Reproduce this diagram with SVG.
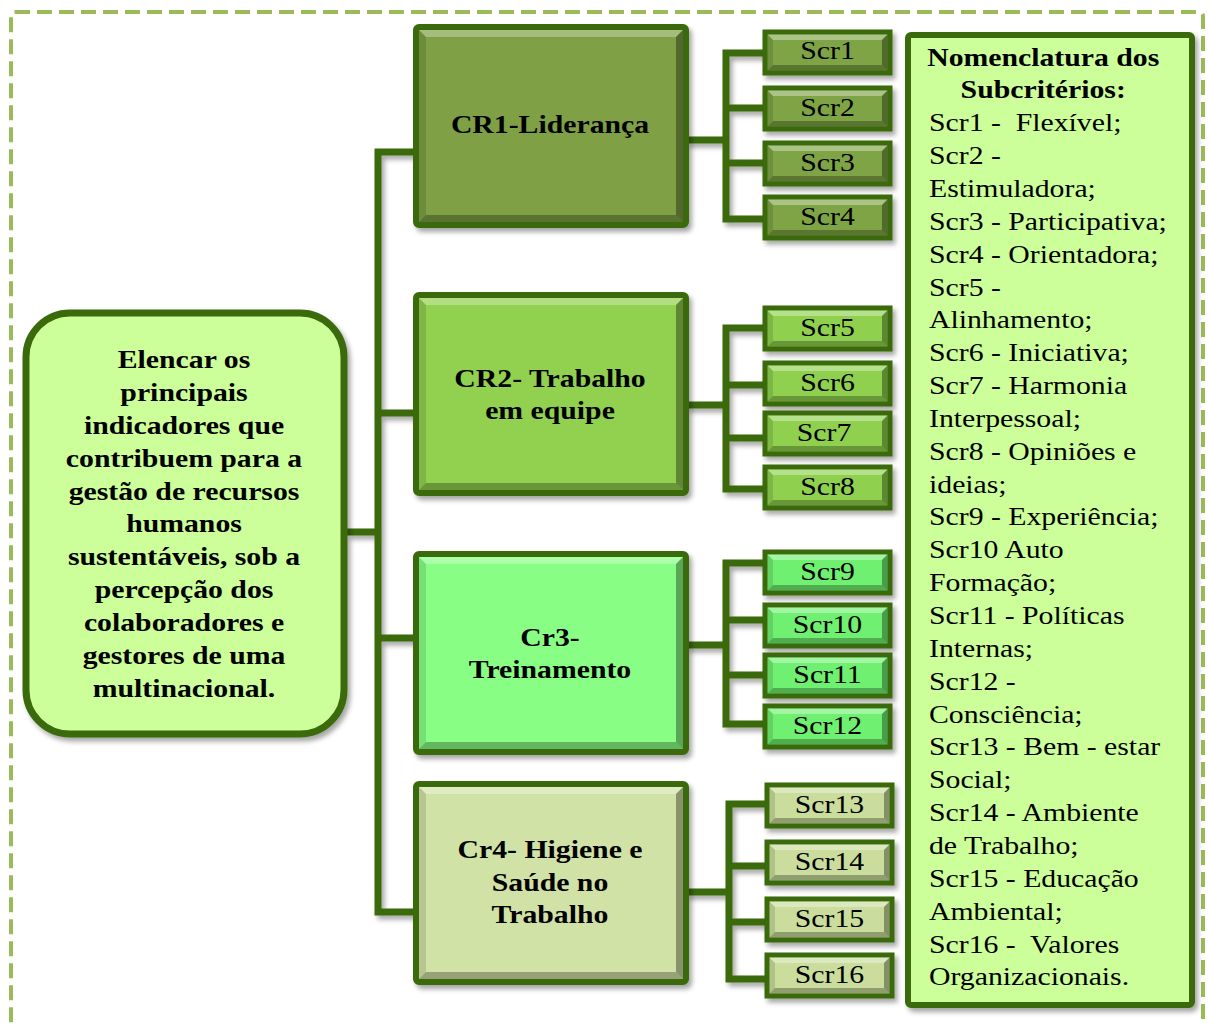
<svg xmlns="http://www.w3.org/2000/svg" xmlns:xlink="http://www.w3.org/1999/xlink" width="1209" height="1023" viewBox="0 0 1209 1023">
<style>
.frame{fill:none;stroke:#9bbb59;stroke-width:4;stroke-dasharray:15 7}
.conn{fill:none;stroke:#3a6a0a;stroke-width:7;stroke-linejoin:miter}
.box{stroke:#3a6a0a;stroke-width:6}
.scr{stroke:#3a6a0a;stroke-width:5}
.b{font-family:"Liberation Serif","Times New Roman",serif;font-weight:bold;font-size:25px;fill:#000;text-anchor:middle}
.r{font-family:"Liberation Serif","Times New Roman",serif;font-size:25px;fill:#000}
.rc{font-family:"Liberation Serif","Times New Roman",serif;font-size:25px;fill:#000;text-anchor:middle}
.g1{fill:#7fa045}.s1{fill:#7ea444}
.g2{fill:#92d050}.s2{fill:#8fd14f}
.g3{fill:#88ff84}.s3{fill:#70f070}
.g4{fill:#d1e2a6}.s4{fill:#cadd9c}
.lite{fill:#ccff99}
</style>
<defs>
<filter id="sh" x="-10%" y="-10%" width="130%" height="140%">
<feDropShadow dx="3" dy="4" stdDeviation="2.5" flood-color="#000" flood-opacity="0.35"/>
</filter>
<g id="bevCR">
<polygon points="3,3 267,3 260,10 10,10" fill="#fff" fill-opacity="0.3"/>
<polygon points="3,3 10,10 10,188 3,195" fill="#000" fill-opacity="0.12"/>
<polygon points="267,3 267,195 260,188 260,10" fill="#000" fill-opacity="0.35"/>
<polygon points="3,195 267,195 260,188 10,188" fill="#000" fill-opacity="0.28"/>
</g>
<g id="bevS">
<polygon points="2.5,2.5 122.5,2.5 117,8 8,8" fill="#fff" fill-opacity="0.35"/>
<polygon points="2.5,2.5 8,8 8,33 2.5,38.5" fill="#000" fill-opacity="0.12"/>
<polygon points="122.5,2.5 122.5,38.5 117,33 117,8" fill="#000" fill-opacity="0.35"/>
<polygon points="2.5,38.5 122.5,38.5 117,33 8,33" fill="#000" fill-opacity="0.28"/>
</g>
</defs>
<rect width="1209" height="1023" fill="#fff"/>
<rect class="frame" x="11" y="12" width="1192" height="1100" rx="4"/>

<g id="connectors" filter="url(#sh)">
<path class="conn" d="M416,152 H378 V912 H416 M378,413 H416 M378,638 H416 M347,532 H378"/>
<path class="conn" d="M765,53 H726 V219 H765 M726,108 H765 M726,163 H765 M686,140 H726"/>
<path class="conn" d="M765,328 H726 V489 H765 M726,385 H765 M726,438 H765 M686,405 H726"/>
<path class="conn" d="M765,563 H726 V724 H765 M726,620 H765 M726,675 H765 M686,645 H726"/>
<path class="conn" d="M767,804 H729 V979 H767 M729,866 H767 M729,922 H767 M686,892 H729"/>
</g>

<g id="root">
<rect class="box lite" x="26" y="313" width="318" height="421" rx="44" style="stroke-width:7" filter="url(#sh)"/>
<g transform="translate(184,0) scale(1.19,1)">
<text class="b" x="0" y="368">Elencar os</text>
<text class="b" x="0" y="401">principais</text>
<text class="b" x="0" y="434">indicadores que</text>
<text class="b" x="0" y="467">contribuem para a</text>
<text class="b" x="0" y="500">gestão de recursos</text>
<text class="b" x="0" y="532">humanos</text>
<text class="b" x="0" y="565">sustentáveis, sob a</text>
<text class="b" x="0" y="598">percepção dos</text>
<text class="b" x="0" y="631">colaboradores e</text>
<text class="b" x="0" y="664">gestores de uma</text>
<text class="b" x="0" y="697">multinacional.</text>
</g>
</g>

<g id="cr1">
<rect class="box g1" x="416" y="27" width="270" height="198" rx="3" filter="url(#sh)"/>
<use xlink:href="#bevCR" x="416" y="27"/>
<text class="b" transform="translate(550,0) scale(1.19,1)" x="0" y="133">CR1-Liderança</text>
</g>
<g id="cr2">
<rect class="box g2" x="416" y="295" width="270" height="198" rx="3" filter="url(#sh)"/>
<use xlink:href="#bevCR" x="416" y="295"/>
<g transform="translate(550,0) scale(1.19,1)">
<text class="b" x="0" y="387">CR2- Trabalho</text>
<text class="b" x="0" y="419">em equipe</text>
</g>
</g>
<g id="cr3">
<rect class="box g3" x="416" y="554" width="270" height="198" rx="3" filter="url(#sh)"/>
<use xlink:href="#bevCR" x="416" y="554"/>
<g transform="translate(550,0) scale(1.19,1)">
<text class="b" x="0" y="646">Cr3-</text>
<text class="b" x="0" y="678">Treinamento</text>
</g>
</g>
<g id="cr4">
<rect class="box g4" x="416" y="784" width="270" height="198" rx="3" filter="url(#sh)"/>
<use xlink:href="#bevCR" x="416" y="784"/>
<g transform="translate(550,0) scale(1.19,1)">
<text class="b" x="0" y="858">Cr4- Higiene e</text>
<text class="b" x="0" y="891">Saúde no</text>
<text class="b" x="0" y="923">Trabalho</text>
</g>
</g>

<g id="scr1"><rect class="scr s1" x="765" y="32" width="125" height="41" filter="url(#sh)"/><use xlink:href="#bevS" x="765" y="32"/><text class="rc" transform="translate(827.5,0) scale(1.19,1)" x="0" y="59">Scr1</text></g>
<g id="scr2"><rect class="scr s1" x="765" y="88" width="125" height="41" filter="url(#sh)"/><use xlink:href="#bevS" x="765" y="88"/><text class="rc" transform="translate(827.5,0) scale(1.19,1)" x="0" y="116">Scr2</text></g>
<g id="scr3"><rect class="scr s1" x="765" y="143" width="125" height="41" filter="url(#sh)"/><use xlink:href="#bevS" x="765" y="143"/><text class="rc" transform="translate(827.5,0) scale(1.19,1)" x="0" y="171">Scr3</text></g>
<g id="scr4"><rect class="scr s1" x="765" y="197" width="125" height="41" filter="url(#sh)"/><use xlink:href="#bevS" x="765" y="197"/><text class="rc" transform="translate(827.5,0) scale(1.19,1)" x="0" y="225">Scr4</text></g>

<g id="scr5"><rect class="scr s2" x="765" y="308" width="125" height="41" filter="url(#sh)"/><use xlink:href="#bevS" x="765" y="308"/><text class="rc" transform="translate(827.5,0) scale(1.19,1)" x="0" y="336">Scr5</text></g>
<g id="scr6"><rect class="scr s2" x="765" y="363" width="125" height="41" filter="url(#sh)"/><use xlink:href="#bevS" x="765" y="363"/><text class="rc" transform="translate(827.5,0) scale(1.19,1)" x="0" y="391">Scr6</text></g>
<g id="scr7"><rect class="scr s2" x="765" y="413" width="125" height="41" filter="url(#sh)"/><use xlink:href="#bevS" x="765" y="413"/><text class="rc" transform="translate(824,0) scale(1.19,1)" x="0" y="441">Scr7</text></g>
<g id="scr8"><rect class="scr s2" x="765" y="467" width="125" height="41" filter="url(#sh)"/><use xlink:href="#bevS" x="765" y="467"/><text class="rc" transform="translate(827.5,0) scale(1.19,1)" x="0" y="495">Scr8</text></g>

<g id="scr9"><rect class="scr s3" x="765" y="552" width="125" height="41" filter="url(#sh)"/><use xlink:href="#bevS" x="765" y="552"/><text class="rc" transform="translate(827.5,0) scale(1.19,1)" x="0" y="580">Scr9</text></g>
<g id="scr10"><rect class="scr s3" x="765" y="605" width="125" height="41" filter="url(#sh)"/><use xlink:href="#bevS" x="765" y="605"/><text class="rc" transform="translate(827.5,0) scale(1.19,1)" x="0" y="633">Scr10</text></g>
<g id="scr11"><rect class="scr s3" x="765" y="655" width="125" height="41" filter="url(#sh)"/><use xlink:href="#bevS" x="765" y="655"/><text class="rc" transform="translate(827.5,0) scale(1.19,1)" x="0" y="683">Scr11</text></g>
<g id="scr12"><rect class="scr s3" x="765" y="706" width="125" height="41" filter="url(#sh)"/><use xlink:href="#bevS" x="765" y="706"/><text class="rc" transform="translate(827.5,0) scale(1.19,1)" x="0" y="734">Scr12</text></g>

<g id="scr13"><rect class="scr s4" x="767" y="785" width="125" height="41" filter="url(#sh)"/><use xlink:href="#bevS" x="767" y="785"/><text class="rc" transform="translate(829.5,0) scale(1.19,1)" x="0" y="813">Scr13</text></g>
<g id="scr14"><rect class="scr s4" x="767" y="842" width="125" height="41" filter="url(#sh)"/><use xlink:href="#bevS" x="767" y="842"/><text class="rc" transform="translate(829.5,0) scale(1.19,1)" x="0" y="870">Scr14</text></g>
<g id="scr15"><rect class="scr s4" x="767" y="899" width="125" height="41" filter="url(#sh)"/><use xlink:href="#bevS" x="767" y="899"/><text class="rc" transform="translate(829.5,0) scale(1.19,1)" x="0" y="927">Scr15</text></g>
<g id="scr16"><rect class="scr s4" x="767" y="955" width="125" height="41" filter="url(#sh)"/><use xlink:href="#bevS" x="767" y="955"/><text class="rc" transform="translate(829.5,0) scale(1.19,1)" x="0" y="983">Scr16</text></g>

<g id="legend">
<rect class="box lite" x="908" y="35" width="284" height="970" rx="3" filter="url(#sh)"/>
<g transform="translate(929,0) scale(1.19,1)">
<text class="b" x="96" y="65.6">Nomenclatura dos</text>
<text class="b" x="96" y="98.5">Subcritérios:</text>
<text class="r" x="0" y="131.3">Scr1 -&#160; Flexível;</text>
<text class="r" x="0" y="164.2">Scr2 -</text>
<text class="r" x="0" y="197">Estimuladora;</text>
<text class="r" x="0" y="229.9">Scr3 - Participativa;</text>
<text class="r" x="0" y="262.7">Scr4 - Orientadora;</text>
<text class="r" x="0" y="295.6">Scr5 -</text>
<text class="r" x="0" y="328.4">Alinhamento;</text>
<text class="r" x="0" y="361.3">Scr6 - Iniciativa;</text>
<text class="r" x="0" y="394.1">Scr7 - Harmonia</text>
<text class="r" x="0" y="427">Interpessoal;</text>
<text class="r" x="0" y="459.8">Scr8 - Opiniões e</text>
<text class="r" x="0" y="492.7">ideias;</text>
<text class="r" x="0" y="525.5">Scr9 - Experiência;</text>
<text class="r" x="0" y="558.4">Scr10 Auto</text>
<text class="r" x="0" y="591.2">Formação;</text>
<text class="r" x="0" y="624.1">Scr11 - Políticas</text>
<text class="r" x="0" y="656.9">Internas;</text>
<text class="r" x="0" y="689.8">Scr12 -</text>
<text class="r" x="0" y="722.6">Consciência;</text>
<text class="r" x="0" y="755.5">Scr13 - Bem - estar</text>
<text class="r" x="0" y="788.3">Social;</text>
<text class="r" x="0" y="821.2">Scr14 - Ambiente</text>
<text class="r" x="0" y="854">de Trabalho;</text>
<text class="r" x="0" y="886.9">Scr15 - Educação</text>
<text class="r" x="0" y="919.7">Ambiental;</text>
<text class="r" x="0" y="952.6">Scr16 -&#160; Valores</text>
<text class="r" x="0" y="985.4">Organizacionais.</text>
</g>
</g>
</svg>
